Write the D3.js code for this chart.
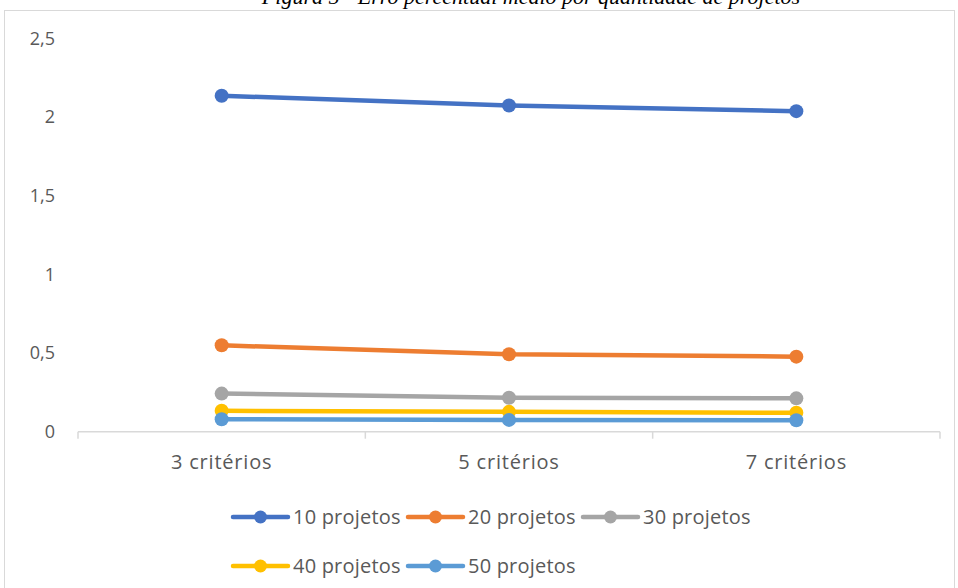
<!DOCTYPE html>
<html>
<head>
<meta charset="utf-8">
<script src="https://cdn.jsdelivr.net/npm/d3@7"></script>
<style>
  html, body { margin: 0; padding: 0; background: #fff; }
  svg { display: block; }
</style>
</head>
<body>
<svg id="chart" width="958" height="588"></svg>
<script>
// Erro percentual médio por quantidade de projetos
const categories = ["3 critérios", "5 critérios", "7 critérios"];
const seriesNames = ["10 projetos", "20 projetos", "30 projetos", "40 projetos", "50 projetos"];
const values10 = [2.135, 2.073, 2.037];
const values20 = [0.549, 0.492, 0.477];
const values30 = [0.242, 0.216, 0.212];
const values40 = [0.133, 0.126, 0.12];
const values50 = [0.079, 0.075, 0.073];
const seriesColors = ["#4472C4", "#ED7D31", "#A5A5A5", "#FFC000", "#5B9BD5"];
const yTicks = [0, 0.5, 1, 1.5, 2, 2.5];
const titleText = "Figura 5 - Erro percentual médio por quantidade de projetos";

const series = [values10, values20, values30, values40, values50].map((v, i) => ({
  name: seriesNames[i], color: seriesColors[i], values: v
}));

const svg = d3.select("#chart");
const font = "'Open Sans', Lato, sans-serif";
const textColor = "#595959";

// figure caption (partly above the page edge)
svg.append("text")
  .attr("x", 531).attr("y", 4)
  .attr("text-anchor", "middle")
  .attr("font-family", "'Liberation Serif', 'Times New Roman', serif")
  .attr("font-style", "italic")
  .attr("font-size", 22)
  .attr("fill", "#000")
  .text(titleText);

// chart frame
svg.append("rect")
  .attr("x", 4.5).attr("y", 10.5)
  .attr("width", 950).attr("height", 600)
  .attr("fill", "none").attr("stroke", "#d9d9d9").attr("stroke-width", 1);

const x = d3.scaleBand().domain(categories).range([78, 940]).padding(0);
const y = d3.scaleLinear().domain([0, 2.5]).range([431.7, 38.3]);
const cx = d => x(d) + x.bandwidth() / 2;

// y axis labels
const yAxis = svg.append("g")
  .attr("transform", "translate(78,0)")
  .call(d3.axisLeft(y).tickValues(yTicks).tickSize(0).tickPadding(23)
    .tickFormat(d => String(d).replace(".", ",")));
yAxis.select(".domain").remove();
yAxis.selectAll("text")
  .attr("font-family", font).attr("font-size", 18).attr("fill", textColor);

// x axis baseline with tick marks at category boundaries
const axisY = y(0);
svg.append("line")
  .attr("x1", x.range()[0]).attr("x2", x.range()[1])
  .attr("y1", axisY).attr("y2", axisY)
  .attr("stroke", "#d9d9d9").attr("stroke-width", 1.5);
const bounds = categories.map(c => x(c)).concat([x.range()[1]]);
svg.selectAll(".xtick").data(bounds).enter().append("line")
  .attr("class", "xtick")
  .attr("x1", d => d).attr("x2", d => d)
  .attr("y1", axisY).attr("y2", axisY + 7)
  .attr("stroke", "#d9d9d9").attr("stroke-width", 1.5);

const xAxis = svg.append("g")
  .attr("transform", `translate(0,${axisY})`)
  .call(d3.axisBottom(x).tickSize(0).tickPadding(23));
xAxis.select(".domain").remove();
xAxis.selectAll("text")
  .attr("font-family", font).attr("font-size", 20)
  .attr("letter-spacing", "0.8px").attr("fill", textColor);

// series lines and markers
const line = d3.line().x((d, i) => cx(categories[i])).y(d => y(d));
series.forEach(s => {
  const g = svg.append("g");
  g.append("path")
    .datum(s.values)
    .attr("d", line)
    .attr("fill", "none")
    .attr("stroke", s.color)
    .attr("stroke-width", 4.5)
    .attr("stroke-linecap", "round")
    .attr("stroke-linejoin", "round");
  g.selectAll("circle").data(s.values).enter().append("circle")
    .attr("cx", (d, i) => cx(categories[i]))
    .attr("cy", d => y(d))
    .attr("r", 7)
    .attr("fill", s.color);
});

// legend: two rows, fixed item width
const legendItemW = 175;
const legendX0 = 233;
const legendRows = [517, 566];
const perRow = 3;
series.forEach((s, i) => {
  const row = Math.floor(i / perRow), col = i % perRow;
  const gx = legendX0 + col * legendItemW, gy = legendRows[row];
  const g = svg.append("g").attr("transform", `translate(${gx},${gy})`);
  g.append("line").attr("x1", 0).attr("x2", 55).attr("y1", 0).attr("y2", 0)
    .attr("stroke", s.color).attr("stroke-width", 4.5).attr("stroke-linecap", "round");
  g.append("circle").attr("cx", 27.5).attr("cy", 0).attr("r", 6.5).attr("fill", s.color);
  g.append("text").attr("x", 60).attr("y", 0).attr("dy", "0.35em")
    .attr("font-family", font).attr("font-size", 20)
    .attr("letter-spacing", "0.2px").attr("fill", textColor)
    .text(s.name);
});
</script>
</body>
</html>
